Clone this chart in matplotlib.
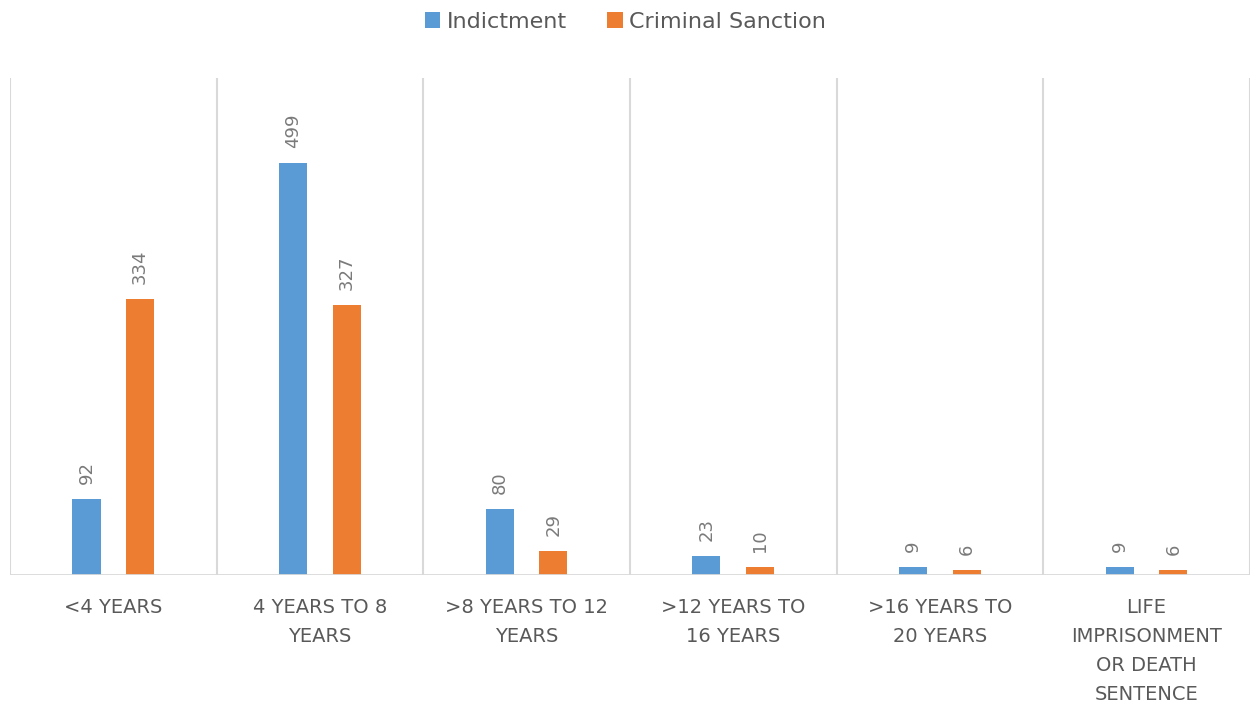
import matplotlib.pyplot as plt
import numpy as np

categories = ['<4 YEARS', '4 YEARS TO 8\nYEARS', '>8 YEARS TO 12\nYEARS',
              '>12 YEARS TO\n16 YEARS', '>16 YEARS TO\n20 YEARS',
              'LIFE\nIMPRISONMENT\nOR DEATH\nSENTENCE']
indictment = [92, 499, 80, 23, 9, 9]
sanction = [334, 327, 29, 10, 6, 6]

blue = '#5B9BD5'
orange = '#ED7D31'
grey = '#595959'

fig = plt.figure(figsize=(12.51, 7.07), dpi=100)
ax = fig.add_axes([0.008, 0.187, 0.991, 0.703])

x = np.arange(len(categories))
w = 0.136
off = 0.13
b1 = ax.bar(x - off, indictment, w, color=blue, label='Indictment')
b2 = ax.bar(x + off, sanction, w, color=orange, label='Criminal Sanction')

for bars in (b1, b2):
    for r in bars:
        ax.text(r.get_x() + r.get_width() / 2, r.get_height() + 18,
                f'{int(r.get_height())}', rotation=90, ha='center', va='bottom',
                fontsize=13, color='#7a7a7a')

ax.set_xlim(-0.5, len(categories) - 0.5)
ax.set_ylim(0, 602)

# vertical separators between the groups
for b in np.arange(len(categories) + 1) - 0.5:
    ax.axvline(b, color='#d9d9d9', lw=1.5, zorder=0)

for s in ax.spines.values():
    s.set_visible(False)
ax.axhline(0, color='#d9d9d9', lw=2, zorder=3)
ax.set_yticks([])
ax.set_xticks(x)
ax.set_xticklabels(categories, fontsize=14, color=grey, linespacing=1.65)
ax.tick_params(axis='x', length=0, pad=17)

fig.legend(handles=[b1, b2], loc='upper center', bbox_to_anchor=(0.5, 1.012),
           ncol=2, frameon=False, fontsize=16, handlelength=0.7,
           handleheight=0.7, handletextpad=0.3, columnspacing=1.8,
           labelcolor=grey)

fig.savefig('out.png', dpi=100)
